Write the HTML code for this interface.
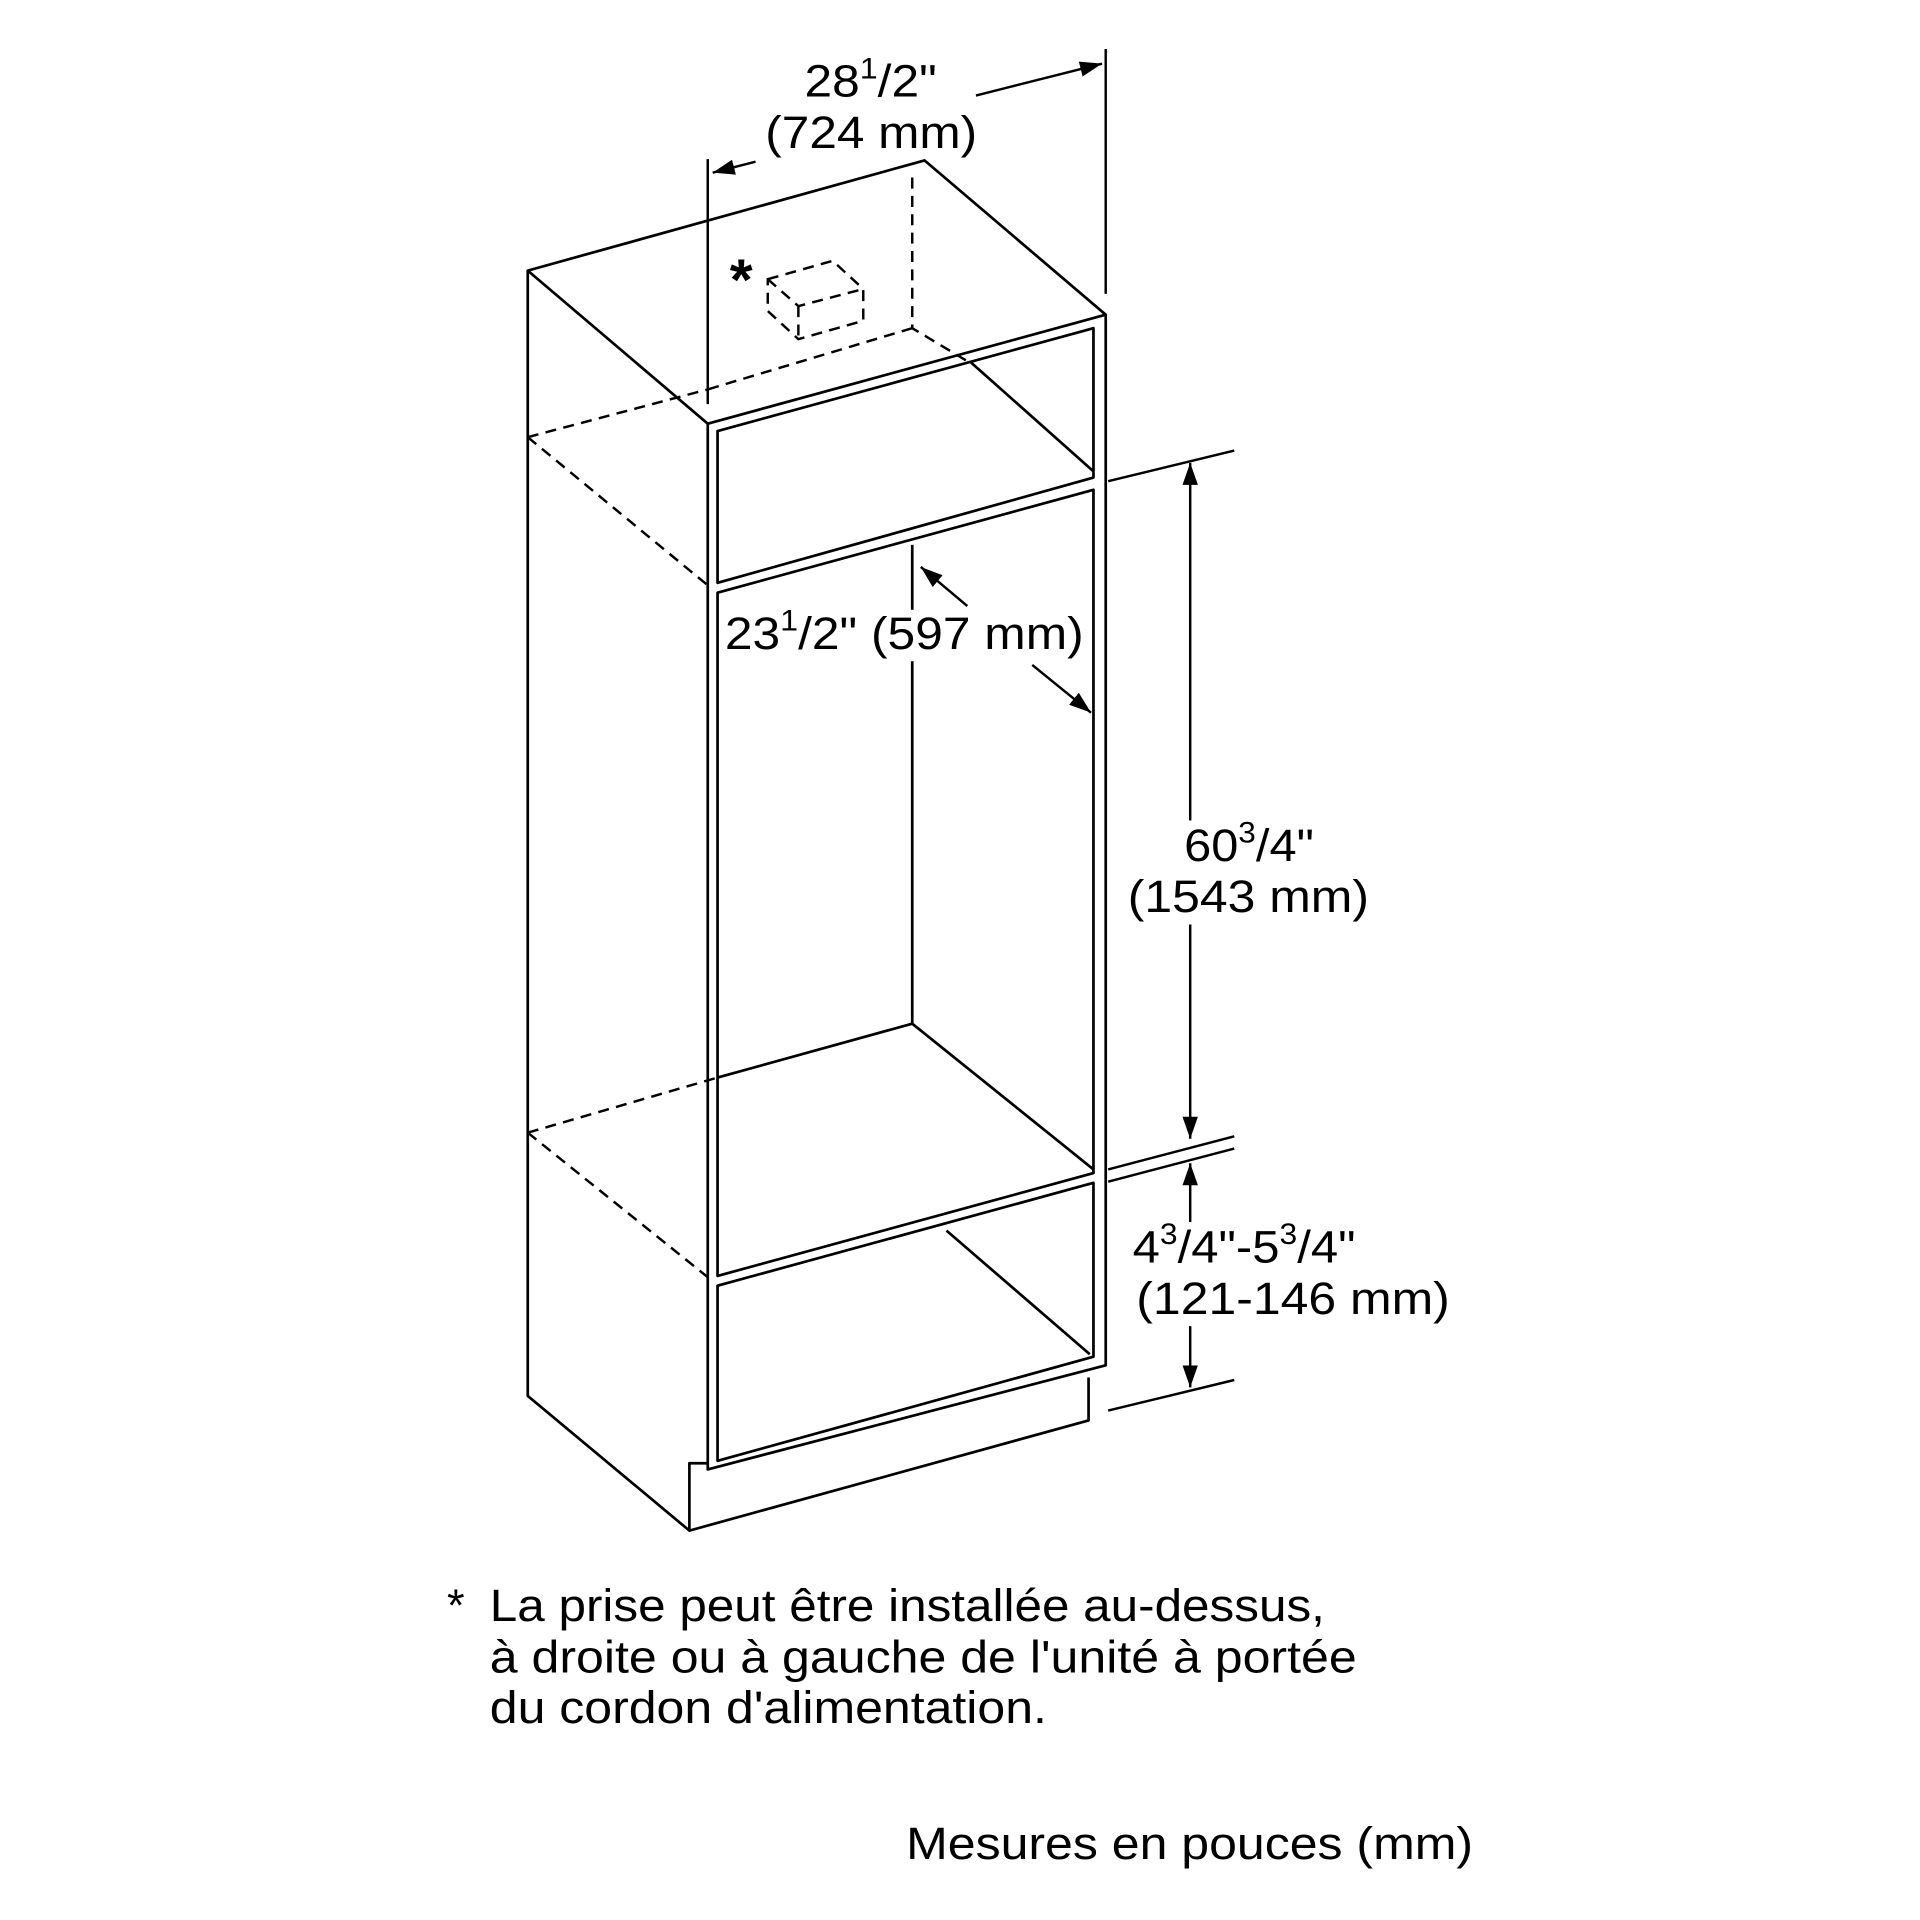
<!DOCTYPE html>
<html><head><style>html,body{margin:0;padding:0;background:#fff}svg{display:block}</style></head><body>
<svg width="1920" height="1920" viewBox="0 0 1568 1568" xmlns="http://www.w3.org/2000/svg" font-family="Liberation Sans, Arial, sans-serif">
<defs><marker id="a" viewBox="0 0 10 10" refX="10" refY="5" markerWidth="9" markerHeight="9" orient="auto-start-reverse"><path d="M0,1.5 L10,5 L0,8.5 z" fill="#000"/></marker></defs>
<g stroke="#000" stroke-width="2.2" fill="none" stroke-linejoin="round">
<path d="M431,221 L755,131 L903,257 L578,346 Z"/>
<path d="M431,221 V1140 L563,1250 V1195 H578"/>
<path d="M563,1250 L889,1160 V1125"/>
<path d="M578,346 V1200 L903,1115 V257"/>
<path d="M586,352 L893,268 V390 L586,476 Z"/>
<path d="M793,296 L893,385"/>
<path d="M586,484 L893,400 V958 L586,1042 Z"/>
<path d="M745,445 V836 L893,955 M586,880 L745,836"/>
<path d="M586,1050 L893,966 V1108 L586,1193 Z"/>
<path d="M773,1005 L890,1106"/>
</g>
<g stroke="#000" stroke-width="2" fill="none" stroke-dasharray="9,6">
<path d="M431,357 L578,318 M431,357 L578,478 M745,145 V268 L790,295 M745,268 L578,318"/>
<path d="M431,925 L586,880 M431,925 L578,1043"/>
<path d="M627,228 L680,213 L705,236 V262 L652,277 L627,254 Z M627,228 L652,250 L705,236 M652,250 V277"/>
</g>
<text x="596" y="245" font-size="48" font-weight="bold">*</text>
<g stroke="#000" stroke-width="2" fill="none">
<path d="M578,130 V330 M903,40 V240"/>
<path d="M617,132 L582,141" marker-end="url(#a)"/>
<path d="M797,78 L900,52" marker-end="url(#a)"/>
<path d="M790,495 L752,463" marker-end="url(#a)"/>
<path d="M843,543 L891,582" marker-end="url(#a)"/>
<path d="M905,393 L1008,368 M905,955 L1008,928 M905,965 L1008,938 M905,1152 L1008,1127"/>
<path d="M972,378 V930" marker-start="url(#a)" marker-end="url(#a)"/>
<path d="M972,950 V1133" marker-start="url(#a)" marker-end="url(#a)"/>
</g>
<g fill="#fff">
<rect x="588" y="498" width="300" height="42"/>
<rect x="917" y="670" width="205" height="85"/>
<rect x="921" y="998" width="266" height="85"/>
</g>
<g font-size="37" fill="#000">
<text x="657" y="79" textLength="108" lengthAdjust="spacingAndGlyphs">28<tspan font-size="24" dy="-15">1</tspan><tspan dy="15">/2"</tspan></text>
<text x="625" y="121" textLength="173" lengthAdjust="spacingAndGlyphs">(724 mm)</text>
<text x="592" y="530" textLength="293" lengthAdjust="spacingAndGlyphs">23<tspan font-size="24" dy="-15">1</tspan><tspan dy="15">/2" (597 mm)</tspan></text>
<text x="967" y="703" textLength="106" lengthAdjust="spacingAndGlyphs">60<tspan font-size="24" dy="-15">3</tspan><tspan dy="15">/4"</tspan></text>
<text x="921" y="745" textLength="197" lengthAdjust="spacingAndGlyphs">(1543 mm)</text>
<text x="925" y="1031" textLength="182" lengthAdjust="spacingAndGlyphs">4<tspan font-size="24" dy="-15">3</tspan><tspan dy="15">/4"-5</tspan><tspan font-size="24" dy="-15">3</tspan><tspan dy="15">/4"</tspan></text>
<text x="928" y="1073" textLength="256" lengthAdjust="spacingAndGlyphs">(121-146 mm)</text>
<text x="365" y="1324">*</text>
<text x="400" y="1324" textLength="682" lengthAdjust="spacingAndGlyphs">La prise peut être installée au-dessus,</text>
<text x="400" y="1366" textLength="708" lengthAdjust="spacingAndGlyphs">à droite ou à gauche de l'unité à portée</text>
<text x="400" y="1407" textLength="455" lengthAdjust="spacingAndGlyphs">du cordon d'alimentation.</text>
<text x="740" y="1518" textLength="463" lengthAdjust="spacingAndGlyphs">Mesures en pouces (mm)</text>
</g>
</svg>
</body></html>
